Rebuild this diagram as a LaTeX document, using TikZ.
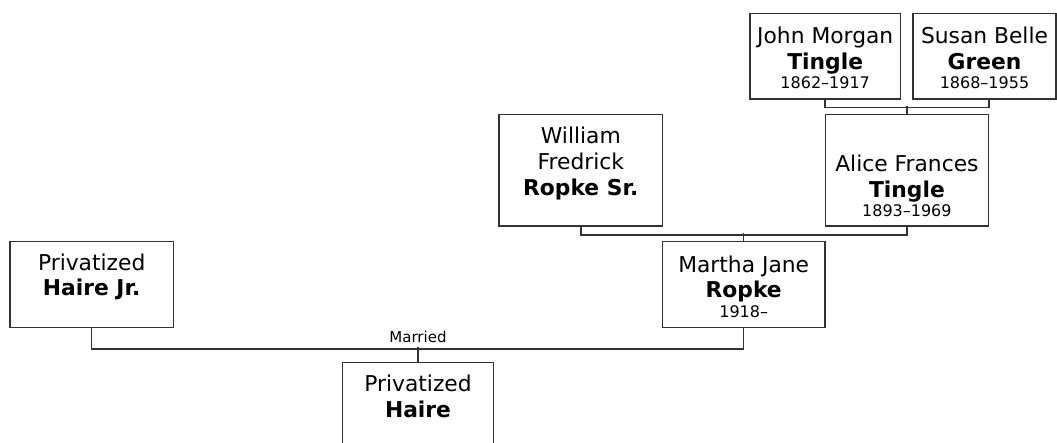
\documentclass[tikz,border=0pt]{standalone}
\usepackage{fontspec}
\setmainfont{DejaVu Sans}
\usetikzlibrary{positioning,calc}
\definecolor{rule}{HTML}{333333}
\tikzset{person/.style={draw=rule,line width=1.5pt,inner sep=0pt},who/.style={align=center,inner sep=0pt,font=\fontsize{21.8}{25.7}\selectfont},link/.style={draw=rule,line width=1.5pt}}
\newcommand{\lifespan}[1]{{\fontsize{16}{18}\selectfont #1}}

\begin{document}
\begin{tikzpicture}[x=1pt,y=-1pt]
\useasboundingbox (0,0) rectangle (1057,443);
% boxes
\node[person,minimum width=150.3pt,minimum height=85.7pt] (john) at(825.2,56.2){};
\node[person,minimum width=143pt,minimum height=85.7pt] (susan) at(984.5,56.2){};
\node[person,minimum width=163.7pt,minimum height=111.3pt] (william) at(580.8,170.4){};
\node[person,minimum width=162.8pt,minimum height=111.3pt] (alice) at(906.9,170.4){};
\node[person,minimum width=163.3pt,minimum height=85.6pt] (hairejr) at(91.7,284.5){};
\node[person,minimum width=162.7pt,minimum height=85.6pt] (martha) at(743.7,284.5){};
\node[person,minimum width=150.6pt,minimum height=85.6pt] (haire) at(418,405.5){};
% names
\node[who] (john-t) at(825.2,58){John Morgan\\\textbf{Tingle}\\[-6.5pt]\lifespan{1862–1917}};
\node[who] (susan-t) at(984.5,58){Susan Belle\\\textbf{Green}\\[-6.5pt]\lifespan{1868–1955}};
\node[who] (william-t) at(580.8,163.5){William\\Fredrick\\\textbf{Ropke Sr.}};
\node[who] (alice-t) at(906.9,186){Alice Frances\\\textbf{Tingle}\\[-6.5pt]\lifespan{1893–1969}};
\node[who] (hairejr-t) at(91.7,277){Privatized\\\textbf{Haire Jr.}};
\node[who] (martha-t) at(743.7,286.5){Martha Jane\\\textbf{Ropke}\\[-6.5pt]\lifespan{1918–}};
\node[who] (haire-t) at(418,396.5){Privatized\\\textbf{Haire}};
% links
\draw[link] (john.south) -- ++(0,7.7) -| (alice.north east |- susan.south);
\draw[link] (alice.north) -- ++(0,-8);
\draw[link] (william.south) -- ++(0,8) -| (alice.south);
\draw[link] (martha.north) -- ++(0,-7.7);
\draw[link] (hairejr.south) -- ++(0,21) -| (martha.south);
\draw[link] (haire.north) -- ++(0,-15) node[anchor=south,inner sep=0pt,yshift=3pt,font=\fontsize{15}{18}\selectfont] (married) {Married};
\end{tikzpicture}
\end{document}
